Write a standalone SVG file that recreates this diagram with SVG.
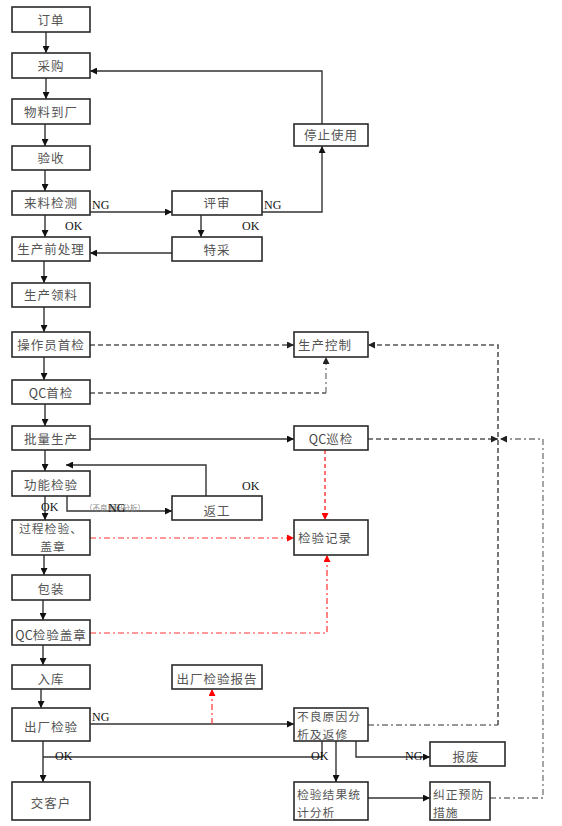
<svg xmlns="http://www.w3.org/2000/svg" width="562" height="826" viewBox="0 0 562 826">
<style>
.b{fill:#fff;stroke:#2a2a2a;stroke-width:1.6}
.t{font-family:"Noto Sans CJK SC","Noto Sans",sans-serif;font-size:12.5px;fill:#555;letter-spacing:1px}
.t2{font-size:11.8px}
.tm{text-anchor:middle}
.q{letter-spacing:0;fill:#444}
.l{font-family:"Liberation Serif","DejaVu Serif",serif;font-size:12px;fill:#111}
.s{fill:none;stroke:#333;stroke-width:1.4}
.d{fill:none;stroke:#555;stroke-width:1.6;stroke-dasharray:5,3}
.dd{fill:none;stroke:#777;stroke-width:1.3;stroke-dasharray:6,3,2,3}
.r{fill:none;stroke:#f33;stroke-width:1.2;stroke-dasharray:6,3,2,3}
.rd{fill:none;stroke:#f33;stroke-width:1.4;stroke-dasharray:4,3}
.sm{font-family:"Noto Sans CJK SC",sans-serif;font-size:7.5px;fill:#888}
</style>
<defs>
<marker id="a" viewBox="0 0 10 10" refX="10" refY="5" markerWidth="7" markerHeight="7" markerUnits="userSpaceOnUse" orient="auto"><path d="M0,0L10,5L0,10z" fill="#111"/></marker>
<marker id="ag" viewBox="0 0 10 10" refX="10" refY="5" markerWidth="7" markerHeight="7" markerUnits="userSpaceOnUse" orient="auto"><path d="M0,0L10,5L0,10z" fill="#222"/></marker>
<marker id="ar" viewBox="0 0 10 10" refX="10" refY="5" markerWidth="7" markerHeight="7" markerUnits="userSpaceOnUse" orient="auto"><path d="M0,0L10,5L0,10z" fill="#f00"/></marker>
</defs>

<g id="connectors">
<path class="s" marker-end="url(#a)" d="M46,32V53"/>
<path class="s" marker-end="url(#a)" d="M46,78V99"/>
<path class="s" marker-end="url(#a)" d="M45,124V146"/>
<path class="s" marker-end="url(#a)" d="M45,170V191"/>
<path class="s" marker-end="url(#a)" d="M45,215V237"/>
<path class="s" marker-end="url(#a)" d="M44,261V283"/>
<path class="s" marker-end="url(#a)" d="M44,307V332"/>
<path class="s" marker-end="url(#a)" d="M44,357V380"/>
<path class="s" marker-end="url(#a)" d="M45,404V426"/>
<path class="s" marker-end="url(#a)" d="M45,450V471"/>
<path class="s" marker-end="url(#a)" d="M45,496V520"/>
<path class="s" marker-end="url(#a)" d="M44,555V575"/>
<path class="s" marker-end="url(#a)" d="M43,600V620"/>
<path class="s" marker-end="url(#a)" d="M43,645V665"/>
<path class="s" marker-end="url(#a)" d="M41,689V708"/>
<path class="s" marker-end="url(#a)" d="M43,741V782"/>

<path class="s" marker-end="url(#a)" d="M90,212H172"/>
<path class="s" marker-end="url(#a)" d="M262,212H322V146"/>
<path class="s" marker-end="url(#a)" d="M322,124V71H90"/>
<path class="s" marker-end="url(#a)" d="M201,215V237"/>
<path class="s" marker-end="url(#a)" d="M172,253H90"/>

<path class="d" marker-end="url(#ag)" d="M90,345H294"/>
<path class="d" d="M90,393H326"/>
<path class="dd" marker-end="url(#ag)" d="M326,393V357"/>
<path class="s" marker-end="url(#a)" d="M90,439H294"/>
<path class="d" marker-end="url(#ag)" d="M368,439H498"/>
<path class="dd" d="M368,725H498"/>
<path class="d" marker-end="url(#ag)" d="M498,725V345H368"/>
<path class="dd" marker-end="url(#ag)" d="M490,798H543V439H500"/>

<path class="s" marker-end="url(#a)" d="M67,496V511H172"/>
<path class="s" marker-end="url(#a)" d="M206,496V465H66"/>

<path class="r" marker-end="url(#ar)" d="M90,538H294"/>
<path class="rd" marker-end="url(#ar)" d="M325,450V520"/>
<path class="r" marker-end="url(#ar)" d="M90,633H327V555"/>

<path class="s" marker-end="url(#a)" d="M90,724H294"/>
<path class="r" marker-end="url(#ar)" d="M212,724V689"/>
<path class="s" d="M322,741V757H43"/>
<path class="s" marker-end="url(#a)" d="M336,741V782"/>
<path class="s" marker-end="url(#a)" d="M356,741V757H430"/>
<path class="s" marker-end="url(#a)" d="M368,798H430"/>
</g>

<g id="labels">
<text class="l" x="92" y="209">NG</text>
<text class="l" x="264" y="209">NG</text>
<text class="l" x="65" y="230">OK</text>
<text class="l" x="242" y="230">OK</text>
<text class="l" x="242" y="490">OK</text>
<text class="sm" x="85" y="511">（不良原因分析）</text>
<text class="l" x="108" y="512">NG</text>
<text class="l" x="41" y="511">OK</text>
<text class="l" x="92" y="721">NG</text>
<text class="l" x="55" y="760">OK</text>
<text class="l" x="311" y="760">OK</text>
<text class="l" x="405" y="760">NG</text>
</g>

<g id="n1"><rect class="b" x="12" y="7" width="78" height="25"/><text class="t tm" x="51" y="25">订单</text></g>
<g id="n2"><rect class="b" x="12" y="53" width="78" height="25"/><text class="t tm" x="51" y="71">采购</text></g>
<g id="n3"><rect class="b" x="12" y="99" width="78" height="25"/><text class="t tm" x="51" y="117">物料到厂</text></g>
<g id="n4"><rect class="b" x="12" y="146" width="78" height="24"/><text class="t tm" x="51" y="163">验收</text></g>
<g id="n5"><rect class="b" x="12" y="191" width="78" height="24"/><text class="t tm" x="51" y="208">来料检测</text></g>
<g id="n6"><rect class="b" x="12" y="237" width="78" height="24"/><text class="t tm" x="51" y="254">生产前处理</text></g>
<g id="n7"><rect class="b" x="12" y="283" width="78" height="24"/><text class="t tm" x="51" y="300">生产领料</text></g>
<g id="n8"><rect class="b" x="12" y="332" width="78" height="25"/><text class="t tm" x="51" y="350">操作员首检</text></g>
<g id="n9"><rect class="b" x="12" y="380" width="78" height="24"/><text class="t tm" x="51" y="398"><tspan class="q">QC</tspan>首检</text></g>
<g id="n10"><rect class="b" x="12" y="426" width="78" height="24"/><text class="t tm" x="51" y="444">批量生产</text></g>
<g id="n11"><rect class="b" x="12" y="471" width="78" height="25"/><text class="t tm" x="51" y="490">功能检验</text></g>
<g id="n12"><rect class="b" x="12" y="520" width="78" height="35"/><text class="t t2 tm" x="51" y="533">过程检验、</text><text class="t t2 tm" x="53" y="551">盖章</text></g>
<g id="n13"><rect class="b" x="12" y="575" width="78" height="25"/><text class="t tm" x="51" y="594">包装</text></g>
<g id="n14"><rect class="b" x="12" y="620" width="78" height="25"/><text class="t tm" x="51" y="640"><tspan class="q">QC</tspan>检验盖章</text></g>
<g id="n15"><rect class="b" x="12" y="665" width="78" height="24"/><text class="t tm" x="51" y="684">入库</text></g>
<g id="n16"><rect class="b" x="12" y="708" width="78" height="33"/><text class="t tm" x="51" y="732">出厂检验</text></g>
<g id="n17"><rect class="b" x="12" y="782" width="78" height="38"/><text class="t tm" x="51" y="808">交客户</text></g>

<g id="n18"><rect class="b" x="172" y="191" width="90" height="24"/><text class="t tm" x="217" y="208">评审</text></g>
<g id="n19"><rect class="b" x="172" y="237" width="90" height="24"/><text class="t tm" x="217" y="255">特采</text></g>
<g id="n20"><rect class="b" x="172" y="496" width="90" height="24"/><text class="t tm" x="217" y="516">返工</text></g>
<g id="n21"><rect class="b" x="172" y="665" width="90" height="24"/><text class="t tm" x="217" y="684">出厂检验报告</text></g>

<g id="n22"><rect class="b" x="294" y="124" width="74" height="22"/><text class="t tm" x="331" y="140">停止使用</text></g>
<g id="n23"><rect class="b" x="294" y="332" width="74" height="25"/><text class="t" x="298" y="350">生产控制</text></g>
<g id="n24"><rect class="b" x="294" y="426" width="74" height="24"/><text class="t tm" x="331" y="444"><tspan class="q">QC</tspan>巡检</text></g>
<g id="n25"><rect class="b" x="294" y="520" width="74" height="35"/><text class="t" x="298" y="543">检验记录</text></g>
<g id="n26"><rect class="b" x="294" y="708" width="74" height="33"/><text class="t t2" x="297" y="721">不良原因分</text><text class="t t2" x="297" y="739">析及返修</text></g>
<g id="n27"><rect class="b" x="294" y="782" width="74" height="38"/><text class="t t2" x="297" y="799">检验结果统</text><text class="t t2" x="297" y="817">计分析</text></g>
<g id="n28"><rect class="b" x="430" y="742" width="75" height="24"/><text class="t tm" x="466" y="762">报废</text></g>
<g id="n29"><rect class="b" x="430" y="782" width="60" height="38"/><text class="t t2" x="433" y="799">纠正预防</text><text class="t t2" x="433" y="817">措施</text></g>
</svg>
